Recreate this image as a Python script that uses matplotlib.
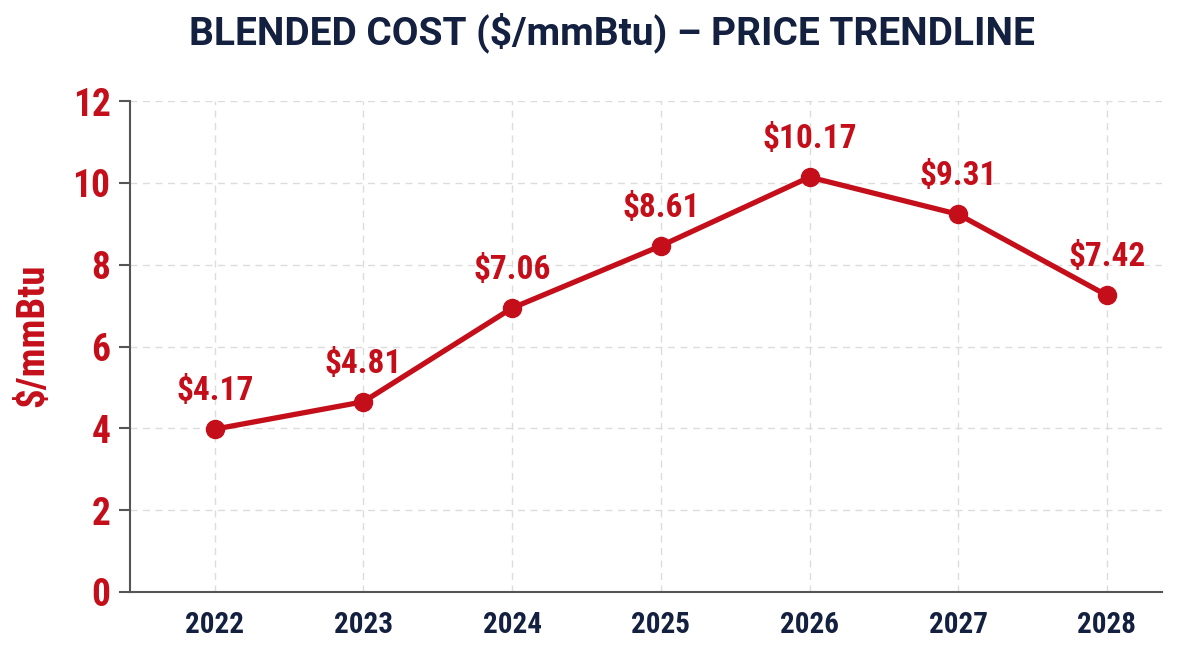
import matplotlib
matplotlib.use('Agg')
import matplotlib.pyplot as plt
from matplotlib import font_manager

# --- DATA ---------------------------------------------------------------------
years = [2022, 2023, 2024, 2025, 2026, 2027, 2028]
# positions of the markers as drawn in the chart
cost_values = [3.98, 4.65, 6.94, 8.46, 10.14, 9.23, 7.25]
# printed value labels
cost_labels = ["$4.17", "$4.81", "$7.06", "$8.61", "$10.17", "$9.31", "$7.42"]
y_ticks = [0, 2, 4, 6, 8, 10, 12]

RED = '#c40f1a'
NAVY = '#14203f'

installed = {f.name for f in font_manager.fontManager.ttflist}
narrow = next((f for f in ['Roboto Condensed', 'Liberation Sans Narrow', 'Roboto']
               if f in installed), 'DejaVu Sans')
wide = 'Roboto' if 'Roboto' in installed else 'DejaVu Sans'

fig = plt.figure(figsize=(12, 6.58), dpi=100)
ax = fig.add_axes([130 / 1200, 1 - 592 / 658, (1162 - 130) / 1200, (592 - 101) / 658])

ax.plot(years, cost_values, color=RED, linewidth=3.8, marker='o',
        markersize=13, zorder=3)

for x, y, txt in zip(years, cost_values, cost_labels):
    ax.annotate(txt, xy=(x, y), xytext=(0, 16), textcoords='offset points',
                ha='center', va='bottom', color=RED, fontsize=24,
                fontweight='bold', family=narrow)

ax.set_xlim(2021.43, 2028.37)
ax.set_ylim(0, 12)
ax.set_xticks(years)
ax.set_yticks(y_ticks)

ax.grid(True, linestyle=(0, (5, 4)), color='#dcdcdc', linewidth=1)
ax.set_axisbelow(True)

for side in ['top', 'right']:
    ax.spines[side].set_visible(False)
for side in ['left', 'bottom']:
    ax.spines[side].set_color('#555555')
    ax.spines[side].set_linewidth(1.5)

ax.tick_params(axis='y', length=8, width=1.5, color='#555555', pad=6)
ax.tick_params(axis='x', length=0, pad=14)

for lab in ax.get_yticklabels():
    lab.set_fontsize(27)
    lab.set_fontweight('bold')
    lab.set_color(RED)
    lab.set_family(narrow)
for lab in ax.get_xticklabels():
    lab.set_fontsize(21)
    lab.set_fontweight('bold')
    lab.set_color(NAVY)
    lab.set_family(narrow)

fig.text(33 / 1200, 1 - 335 / 658, '$/mmBtu', rotation=90, ha='center', va='center',
         color=RED, fontsize=28, fontweight='bold', family=narrow)

fig.text(612 / 1200, 1 - 33 / 658, 'BLENDED COST ($/mmBtu) \u2013 PRICE TRENDLINE',
         ha='center', va='center', color=NAVY, fontsize=28, fontweight='bold',
         family=wide)

fig.savefig('out.png', dpi=100)
plt.close(fig)
